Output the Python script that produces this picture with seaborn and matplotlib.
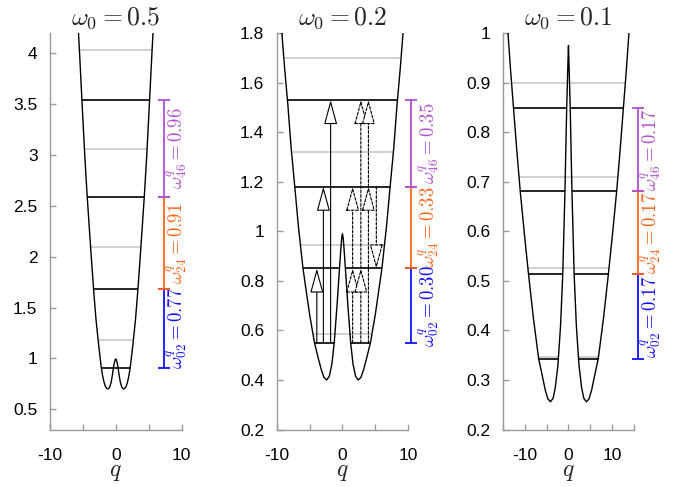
import numpy as np
import matplotlib
matplotlib.use("Agg")
import matplotlib.pyplot as plt
import seaborn as sns

# ---------------- data ----------------
TITLES = [r"$\omega_0 = 0.5$", r"$\omega_0 = 0.2$", r"$\omega_0 = 0.1$"]

# potential curves, right half (q >= 0); mirrored for q < 0
P1_Q = [0.0, 0.1, 0.2, 0.35, 0.5, 0.7, 0.9, 1.05, 1.22, 1.4, 1.6, 1.8, 2.0, 2.2, 2.6, 3.0, 3.35, 3.8, 4.35, 4.7, 5.13, 5.5, 5.75]
P1_V = [0.995, 0.985, 0.96, 0.91, 0.84, 0.765, 0.72, 0.705, 0.70, 0.706, 0.728, 0.77, 0.83, 0.91, 1.13, 1.38, 1.66, 2.07, 2.6, 2.98, 3.52, 4.0, 4.3]

P2_Q = [0.0, 0.1, 0.2, 0.45, 0.8, 1.25, 1.6, 2.0, 2.4, 2.8, 3.2, 3.7, 4.25, 5.0, 6.0, 6.7, 7.25, 7.8, 8.3, 8.8, 9.3, 9.6]
P2_V = [0.99, 0.975, 0.945, 0.85, 0.71, 0.55, 0.465, 0.415, 0.40, 0.41, 0.44, 0.49, 0.55, 0.665, 0.85, 1.02, 1.18, 1.335, 1.51, 1.66, 1.83, 1.93]

P3_Q = [0.0, 0.05, 0.15, 0.4, 0.8, 1.3, 1.8, 2.4, 3.0, 3.5, 4.1, 4.7, 5.3, 6.0, 6.8, 8.0, 9.1, 10.0, 11.0, 11.8, 12.5, 13.2, 13.8, 14.2]
P3_V = [0.975, 0.96, 0.93, 0.849, 0.68, 0.513, 0.41, 0.33, 0.285, 0.263, 0.256, 0.262, 0.28, 0.31, 0.343, 0.425, 0.513, 0.59, 0.681, 0.765, 0.845, 0.925, 1.0, 1.05]

# energy levels (black: even states, gray: odd states); outer/inner half-widths (inner 0 = continuous)
P1_BLACK_E = [0.91, 1.68, 2.59, 3.54]
P1_BLACK_OUT = [2.18, 3.35, 4.37, 5.1]
P1_BLACK_IN = [0, 0, 0, 0]
P1_GRAY_E = [1.18, 2.10, 3.06, 4.03]
P1_GRAY_OUT = [2.62, 3.8, 4.7, 5.45]
P1_GRAY_IN = [0, 0, 0, 0]

P2_BLACK_E = [0.55, 0.85, 1.18, 1.53]
P2_BLACK_OUT = [4.25, 6.0, 7.25, 8.3]
P2_BLACK_IN = [1.25, 0.45, 0, 0]
P2_GRAY_E = [0.585, 0.945, 1.32, 1.70]
P2_GRAY_OUT = [4.35, 6.35, 7.7, 8.75]
P2_GRAY_IN = [0, 0, 0, 0]

P3_BLACK_E = [0.343, 0.513, 0.681, 0.849]
P3_BLACK_OUT = [6.8, 9.1, 11.0, 12.5]
P3_BLACK_IN = [2.2, 1.3, 0.8, 0.42]
P3_GRAY_E = [0.346, 0.526, 0.71, 0.899]
P3_GRAY_OUT = [6.8, 9.2, 11.2, 12.9]
P3_GRAY_IN = [2.2, 0, 0, 0]

# transition frequencies
GAP_LABELS = ["02", "24", "46"]
P1_GAPS = ["0.77", "0.91", "0.96"]
P2_GAPS = ["0.30", "0.33", "0.35"]
P3_GAPS = ["0.17", "0.17", "0.17"]
GAP_COLORS = ["#1010ff", "#ff6418", "#b050d0"]

# arrows in middle panel: (q, E_from, E_to)
SOLID_Q = [-3.9, -2.9, -1.8]
SOLID_FROM = [0.55, 0.55, 0.55]
SOLID_TO = [0.85, 1.18, 1.53]
DASH_Q = [1.55, 1.55, 2.8, 2.8, 3.95, 3.95, 5.15]
DASH_FROM = [0.55, 0.85, 0.55, 0.85, 0.55, 1.18, 1.18]
DASH_TO = [0.85, 1.18, 0.85, 1.53, 1.18, 1.53, 0.85]

# axes settings
XLIMS = [(-10, 10), (-10, 10), (-15, 15)]
XTICKS = [[-10, -5, 0, 5, 10], [-10, -5, 0, 5, 10], [-15, -10, -5, 0, 5, 10, 15]]
XTICKLABELS = [["-10", "", "0", "", "10"], ["-10", "", "0", "", "10"], ["", "-10", "", "0", "", "10", ""]]
YLIMS = [(0.3, 4.2), (0.2, 1.8), (0.2, 1.0)]
YTICKS = [[0.5, 1, 1.5, 2, 2.5, 3, 3.5, 4],
          [0.2, 0.4, 0.6, 0.8, 1.0, 1.2, 1.4, 1.6, 1.8],
          [0.2, 0.3, 0.4, 0.5, 0.6, 0.7, 0.8, 0.9, 1.0]]
YTICKLABELS = [["0.5", "1", "1.5", "2", "2.5", "3", "3.5", "4"],
               ["0.2", "0.4", "0.6", "0.8", "1", "1.2", "1.4", "1.6", "1.8"],
               ["0.2", "0.3", "0.4", "0.5", "0.6", "0.7", "0.8", "0.9", "1"]]
BAR_X = [7.35, 10.4, 15.8]
TEXT_X = [9.4, 13.2, 19.0]

# ---------------- style ----------------
sns.set_theme(style="white")
plt.rcParams["font.family"] = ["Liberation Sans", "DejaVu Sans"]
plt.rcParams["mathtext.fontset"] = "cm"
plt.rcParams["axes.unicode_minus"] = False

fig = plt.figure(figsize=(6.89, 4.87), dpi=100)
lefts = [50 / 689, 276.7 / 689, 502.7 / 689]
width = 131.5 / 689
bottom = 0.118
height = 0.932 - 0.118
axes = [fig.add_axes([l, bottom, width, height]) for l in lefts]

curves = [(P1_Q, P1_V), (P2_Q, P2_V), (P3_Q, P3_V)]
blacks = [(P1_BLACK_E, P1_BLACK_OUT, P1_BLACK_IN), (P2_BLACK_E, P2_BLACK_OUT, P2_BLACK_IN), (P3_BLACK_E, P3_BLACK_OUT, P3_BLACK_IN)]
grays = [(P1_GRAY_E, P1_GRAY_OUT, P1_GRAY_IN), (P2_GRAY_E, P2_GRAY_OUT, P2_GRAY_IN), (P3_GRAY_E, P3_GRAY_OUT, P3_GRAY_IN)]
gaps = [P1_GAPS, P2_GAPS, P3_GAPS]


def draw_levels(ax, E, OUT, IN, color, lw, z):
    for e, o, i in zip(E, OUT, IN):
        if i > 0:
            ax.hlines([e, e], [-o, i], [-i, o], color=color, lw=lw, zorder=z)
        else:
            ax.hlines(e, -o, o, color=color, lw=lw, zorder=z)


for k, ax in enumerate(axes):
    q, v = curves[k]
    q = np.asarray(q)
    v = np.asarray(v)
    qf = np.concatenate([-q[::-1], q[1:]])
    vf = np.concatenate([v[::-1], v[1:]])
    sns.lineplot(x=qf, y=vf, ax=ax, color="black", lw=1.0, sort=False, estimator=None, zorder=3)

    draw_levels(ax, *grays[k], color="#c4c4c4", lw=1.1, z=1)
    draw_levels(ax, *blacks[k], color="black", lw=1.2, z=2)

    # transition-frequency brackets
    E = blacks[k][0]
    for j in range(3):
        lo, hi = E[j], E[j + 1]
        cont = ax.errorbar(BAR_X[k], (lo + hi) / 2, yerr=(hi - lo) / 2, fmt="none",
                           ecolor=GAP_COLORS[j], elinewidth=1.3, capsize=4.4, capthick=1.3, zorder=4)
        for art in cont.lines[1] + cont.lines[2]:
            art.set_clip_on(False)
        ax.text(TEXT_X[k], (lo + hi) / 2,
                r"$\omega^q_{%s} = %s$" % (GAP_LABELS[j], gaps[k][j]),
                rotation=90, color=GAP_COLORS[j], ha="center", va="center",
                fontsize=13.5, clip_on=False)

    ax.set_xlim(*XLIMS[k])
    ax.set_ylim(*YLIMS[k])
    ax.set_xticks(XTICKS[k])
    ax.set_xticklabels(XTICKLABELS[k])
    ax.set_yticks(YTICKS[k])
    ax.set_yticklabels(YTICKLABELS[k])
    for s in ["top", "right"]:
        ax.spines[s].set_visible(False)
    for s in ["left", "bottom"]:
        ax.spines[s].set_color("#9a9a9a")
        ax.spines[s].set_linewidth(1.0)
    ax.tick_params(axis="both", which="major", bottom=True, left=True, direction="in",
                   length=4, width=1.0, color="#9a9a9a", labelsize=12.5, labelcolor="black")
    ax.tick_params(axis="x", pad=13)
    ax.tick_params(axis="y", pad=9)
    ax.set_title(TITLES[k], fontsize=18.5, pad=6)
    ax.set_xlabel(r"$q$", fontsize=17, labelpad=-1)
    ax.set_ylabel("")

# arrows in the middle panel
ax = axes[1]
for qq, a, b in zip(SOLID_Q, SOLID_FROM, SOLID_TO):
    ax.annotate("", xy=(qq, b), xytext=(qq, a),
                arrowprops=dict(arrowstyle="-|>,head_length=1.1,head_width=0.3", mutation_scale=14,
                                fc="white", ec="black", lw=0.8, shrinkA=0, shrinkB=0), zorder=5)
for qq, a, b in zip(DASH_Q, DASH_FROM, DASH_TO):
    ax.annotate("", xy=(qq, b), xytext=(qq, a),
                arrowprops=dict(arrowstyle="-|>,head_length=1.1,head_width=0.3", mutation_scale=14,
                                fc="white", ec="black", lw=0.8, ls=(0, (2.5, 1.5)),
                                shrinkA=0, shrinkB=0), zorder=5)

fig.savefig("out.png", dpi=100)
